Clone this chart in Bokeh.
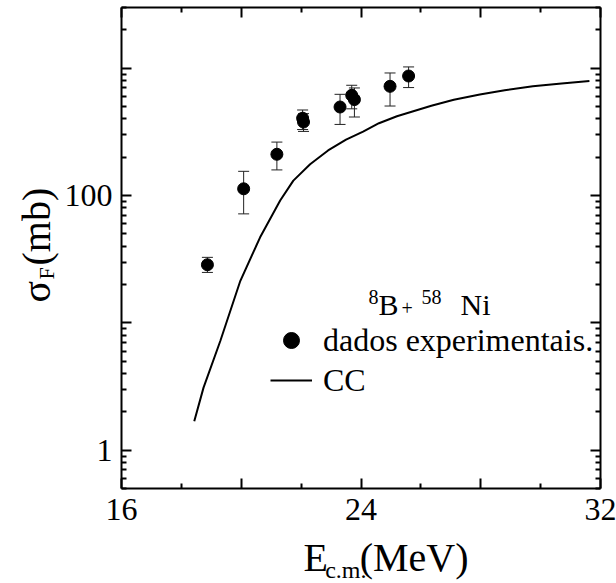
import numpy as np
from bokeh.plotting import figure
from bokeh.layouts import row, column
from bokeh.models import (ColumnDataSource, Whisker, TeeHead, FixedTicker, LinearAxis,
                          LogAxis, Legend, LegendItem, Range1d)
from bokeh.core.properties import value
from bokeh.embed import file_html
from bokeh.resources import INLINE

# ---- data ----
E_exp = [18.87, 20.08, 21.19, 22.05, 22.08, 23.30, 23.69, 23.78, 24.97, 25.59]
sigma_exp = [28.6, 113, 211, 405, 378, 496, 613, 567, 721, 869]
sigma_hi = [32.7, 155, 263, 470, 440, 624, 735, 700, 918, 1024]
sigma_lo = [24.9, 71.8, 159, 330, 319, 362, 480, 414, 505, 705]

E_cc = [18.43, 18.74, 19.30, 19.97, 20.63, 21.30, 21.74, 22.30, 22.90, 23.50, 24.07,
        24.60, 25.20, 26.35, 27.10, 27.97, 28.80, 29.74, 30.70, 31.63]
sigma_cc = [1.69, 3.1, 7.2, 21.4, 47, 91.5, 131, 176, 226, 275, 318,
            370, 420, 507, 565, 621, 672, 721, 760, 795]

x_major = [16, 20, 24, 28, 32]
x_minor = [18, 22, 26, 30]
x_labels = {16: "16", 20: "", 24: "24", 28: "", 32: "32"}
y_major = [1, 10, 100, 1000]
y_minor = [0.5, 0.6, 0.7, 0.8, 0.9, 2, 3, 4, 5, 6, 7, 8, 9,
           20, 30, 40, 50, 60, 70, 80, 90, 200, 300, 400, 500, 600, 700, 800, 900,
           2000, 3000]
y_labels = {1: "1", 10: "", 100: "100", 1000: ""}
x_blank = {t: "" for t in x_major}
y_blank = {t: "" for t in y_major}

FONT = "Liberation Serif"

# page geometry (canvas pixels)
W, H = 616, 583
LW = 61            # width of left label strip
MH = 534           # height of main figure
FL, FR, FT, FB = 121, 600, 7, 488
X0, X1, Y0, Y1 = 16.0, 32.0, 0.5, 3000.0

p = figure(width=W - LW, height=MH, x_range=Range1d(X0, X1), y_range=Range1d(Y0, Y1),
           y_axis_type="log", output_backend="svg", toolbar_location=None,
           min_border_left=FL - LW, min_border_right=W - FR, min_border_top=FT,
           min_border_bottom=MH - FB)
p.outline_line_color = None
p.grid.visible = False

def style_axis(ax, ticks, minor, overrides, show_labels):
    ax.ticker = FixedTicker(ticks=ticks, minor_ticks=minor)
    ax.major_label_overrides = overrides
    ax.axis_line_width = 2
    ax.axis_line_color = "black"
    ax.major_tick_in = 10
    ax.major_tick_out = 0
    ax.minor_tick_in = 5
    ax.minor_tick_out = 0
    ax.major_tick_line_width = 2
    ax.minor_tick_line_width = 2
    ax.major_tick_line_color = "black"
    ax.minor_tick_line_color = "black"
    ax.major_label_text_font = FONT
    ax.major_label_text_color = "black"
    if show_labels:
        ax.major_label_text_font_size = "32px"
        ax.major_label_standoff = 9
    else:
        ax.major_label_text_font_size = "1px"
        ax.major_label_standoff = 0

style_axis(p.xaxis[0], x_major, x_minor, x_labels, True)
style_axis(p.yaxis[0], y_major, y_minor, y_labels, True)
p.xaxis[0].major_label_standoff = 10

top = LinearAxis()
style_axis(top, x_major, x_minor, x_blank, False)
p.add_layout(top, "above")
right = LogAxis()
style_axis(right, y_major, y_minor, y_blank, False)
p.add_layout(right, "right")

# ---- curve ----
cc = p.line(E_cc, sigma_cc, line_color="black", line_width=2)

# ---- data with error bars ----
src = ColumnDataSource(dict(E=E_exp, s=sigma_exp, up=sigma_hi, lo=sigma_lo))
wh = Whisker(source=src, base="E", upper="up", lower="lo", dimension="height",
             line_color="#222222", line_width=1,
             upper_head=TeeHead(size=11, line_color="#222222", line_width=1),
             lower_head=TeeHead(size=11, line_color="#222222", line_width=1))
p.add_layout(wh)
pts = p.scatter("E", "s", source=src, size=12, color="black", marker="circle")

# ---- legend ----
legend = Legend(items=[LegendItem(label="dados experimentais.", renderers=[pts]),
                       LegendItem(label="CC", renderers=[cc])],
                location=(270 - FL, FB - 400), orientation="vertical",
                background_fill_alpha=0, border_line_color=None,
                padding=0, margin=0, spacing=0,
                glyph_width=42, glyph_height=40, label_height=40,
                label_standoff=11, label_text_font=FONT,
                label_text_font_size="32px", label_text_color="black")
p.add_layout(legend)

# pixel position -> data coords of the main frame
def px2x(X):
    return X0 + (X - FL) / (FR - FL) * (X1 - X0)

def py2y(Y):
    lg = np.log10(Y1) - (Y - FT) / (FB - FT) * (np.log10(Y1) - np.log10(Y0))
    return 10 ** lg

SHIFT = 0.36  # baseline lies this many em below a "middle" anchor

def ptext(fig, X, Y, text, size, rotated=False, conv=True):
    # (X, Y) is the desired start of the text baseline, in canvas pixels
    if rotated:
        X = X - SHIFT * size
    else:
        Y = Y - SHIFT * size
    x, y = (px2x(X), py2y(Y)) if conv else (X, Y)
    fig.text(x=[x], y=[y], text=[text], text_font=value(FONT),
             text_font_size=value(f"{size}px"), text_color="black",
             text_align="left", text_baseline="middle",
             angle=(np.pi / 2 if rotated else 0.0))

ptext(p, 368, 304, "8", 20)
ptext(p, 378, 315, "B", 30)
ptext(p, 401, 315, "+", 20)
ptext(p, 421, 304, "58", 20)
ptext(p, 460, 315, "Ni", 30)

# ---- left strip: y axis label ----
L = figure(width=LW, height=H, x_range=Range1d(0, LW), y_range=Range1d(H, 0),
           output_backend="svg", toolbar_location=None, min_border=0,
           x_axis_location=None, y_axis_location=None)
L.outline_line_color = None
L.grid.visible = False
ptext(L, 50, 302, "σ", 40, rotated=True, conv=False)
ptext(L, 54, 279, "F", 22, rotated=True, conv=False)
ptext(L, 50, 265, "(mb)", 40, rotated=True, conv=False)

# ---- bottom strip: x axis label ----
B = figure(width=W - LW, height=H - MH, x_range=Range1d(LW, W), y_range=Range1d(H, MH),
           output_backend="svg", toolbar_location=None, min_border=0,
           x_axis_location=None, y_axis_location=None)
B.outline_line_color = None
B.grid.visible = False
ptext(B, 272, 571, "E", 40, conv=False)
ptext(B, 297, 578, "c.m.", 24, conv=False)
ptext(B, 337, 571, "(MeV)", 40, conv=False)

layout = row(L, column(p, B, spacing=0), spacing=0)
open("out.html", "w").write(file_html(layout, INLINE))
